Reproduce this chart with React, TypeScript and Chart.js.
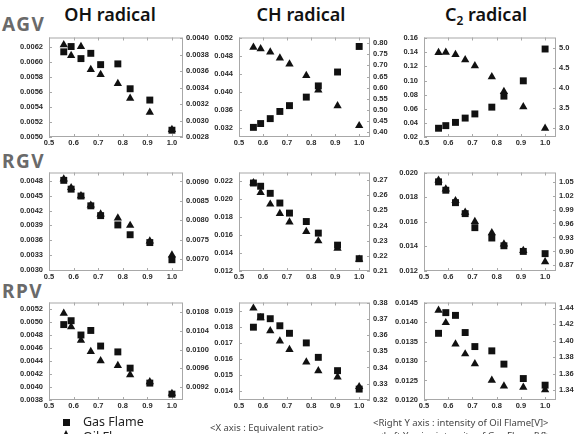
import React, { useEffect, useRef } from 'react';
import { Chart, registerables } from 'chart.js';

Chart.register(...registerables);

// Equivalent ratio of each measurement
const equivalentRatio = [0.56, 0.59, 0.63, 0.67, 0.71, 0.78, 0.83, 0.91, 1.0];
const xTicks = [0.5, 0.6, 0.7, 0.8, 0.9, 1.0];

// AGV – gas flame (left axis) and oil flame (right axis) intensities [V]
const agvOhGas = [0.00613, 0.0062, 0.00604, 0.00611, 0.00596, 0.00597, 0.00564, 0.00549, 0.00509];
const agvOhOil = [0.00392, 0.00379, 0.0039, 0.00362, 0.00356, 0.00345, 0.00327, 0.0031, 0.00289];
const agvChGas = [0.03215, 0.033, 0.0341, 0.0357, 0.037, 0.0389, 0.0414, 0.0445, 0.0502];
const agvChOil = [0.782, 0.775, 0.76, 0.733, 0.706, 0.654, 0.589, 0.518, 0.428];
const agvC2Gas = [0.0324, 0.0361, 0.0407, 0.0468, 0.0527, 0.0623, 0.0779, 0.0996, 0.1447];
const agvC2Oil = [4.89, 4.9, 4.84, 4.71, 4.56, 4.28, 3.91, 3.53, 2.99];

// RGV
const rgvOhGas = [0.00482, 0.00464, 0.0045, 0.0043, 0.0041, 0.00391, 0.00371, 0.00355, 0.0032];
const rgvOhOil = [0.00906, 0.00884, 0.00863, 0.00839, 0.00816, 0.00806, 0.00787, 0.00747, 0.00711];
const rgvChGas = [0.0218, 0.02144, 0.02065, 0.01957, 0.01845, 0.01751, 0.01622, 0.01488, 0.01337];
const rgvChOil = [0.2681, 0.2617, 0.254, 0.2479, 0.2423, 0.236, 0.2298, 0.2249, 0.2177];
const rgvC2Gas = [0.01924, 0.01856, 0.01755, 0.01666, 0.01552, 0.01468, 0.01405, 0.01359, 0.01341];
const rgvC2Oil = [1.053, 1.034, 1.009, 0.984, 0.964, 0.94, 0.916, 0.902, 0.8775];

// RPV
const rpvOhGas = [0.00496, 0.00502, 0.0048, 0.00487, 0.00463, 0.00454, 0.00429, 0.00406, 0.00389];
const rpvOhOil = [0.01078, 0.01049, 0.0102, 0.00996, 0.00976, 0.00966, 0.00946, 0.00931, 0.00906];
const rpvChGas = [0.01796, 0.01861, 0.01849, 0.01805, 0.01758, 0.01698, 0.01608, 0.01525, 0.0141];
const rpvChOil = [0.3765, 0.3706, 0.3626, 0.3563, 0.351, 0.3433, 0.338, 0.3341, 0.3282];
const rpvC2Gas = [0.01371, 0.01424, 0.01417, 0.01373, 0.01337, 0.01326, 0.01292, 0.01255, 0.01238];
const rpvC2Oil = [1.437, 1.422, 1.396, 1.384, 1.372, 1.352, 1.345, 1.3435, 1.3403];

// Tick values of each axis
const agvOhLeftTicks = [0.005, 0.0052, 0.0054, 0.0056, 0.0058, 0.006, 0.0062];
const agvOhRightTicks = [0.0028, 0.003, 0.0032, 0.0034, 0.0036, 0.0038, 0.004];
const agvChLeftTicks = [0.032, 0.036, 0.04, 0.044, 0.048, 0.052];
const agvChRightTicks = [0.4, 0.45, 0.5, 0.55, 0.6, 0.65, 0.7, 0.75, 0.8];
const agvC2LeftTicks = [0.02, 0.04, 0.06, 0.08, 0.1, 0.12, 0.14, 0.16];
const agvC2RightTicks = [3.0, 3.5, 4.0, 4.5, 5.0];
const rgvOhLeftTicks = [0.003, 0.0033, 0.0036, 0.0039, 0.0042, 0.0045, 0.0048];
const rgvOhRightTicks = [0.007, 0.0075, 0.008, 0.0085, 0.009];
const rgvChLeftTicks = [0.012, 0.014, 0.016, 0.018, 0.02, 0.022];
const rgvChRightTicks = [0.21, 0.22, 0.23, 0.24, 0.25, 0.26, 0.27];
const rgvC2LeftTicks = [0.012, 0.014, 0.016, 0.018, 0.02];
const rgvC2RightTicks = [0.87, 0.9, 0.93, 0.96, 0.99, 1.02, 1.05];
const rpvOhLeftTicks = [0.0038, 0.004, 0.0042, 0.0044, 0.0046, 0.0048, 0.005, 0.0052];
const rpvOhRightTicks = [0.0092, 0.0096, 0.01, 0.0104, 0.0108];
const rpvChLeftTicks = [0.014, 0.015, 0.016, 0.017, 0.018, 0.019];
const rpvChRightTicks = [0.32, 0.33, 0.34, 0.35, 0.36, 0.37, 0.38];
const rpvC2LeftTicks = [0.012, 0.0125, 0.013, 0.0135, 0.014, 0.0145];
const rpvC2RightTicks = [1.34, 1.36, 1.38, 1.4, 1.42, 1.44];

type AxisSpec = { min: number; max: number; ticks: number[]; digits: number };
type PanelSpec = {
  key: string;
  col: number;
  row: number;
  gas: number[];
  oil: number[];
  left: AxisSpec;
  right: AxisSpec;
};

const panels: PanelSpec[] = [
  { key: 'agv-oh', col: 0, row: 0, gas: agvOhGas, oil: agvOhOil,
    left: { min: 0.005, max: 0.00632, ticks: agvOhLeftTicks, digits: 4 },
    right: { min: 0.0028, max: 0.00401, ticks: agvOhRightTicks, digits: 4 } },
  { key: 'agv-ch', col: 1, row: 0, gas: agvChGas, oil: agvChOil,
    left: { min: 0.03, max: 0.0522, ticks: agvChLeftTicks, digits: 3 },
    right: { min: 0.377, max: 0.826, ticks: agvChRightTicks, digits: 2 } },
  { key: 'agv-c2', col: 2, row: 0, gas: agvC2Gas, oil: agvC2Oil,
    left: { min: 0.02, max: 0.161, ticks: agvC2LeftTicks, digits: 2 },
    right: { min: 2.77, max: 5.27, ticks: agvC2RightTicks, digits: 1 } },
  { key: 'rgv-oh', col: 0, row: 1, gas: rgvOhGas, oil: rgvOhOil,
    left: { min: 0.00297, max: 0.00498, ticks: rgvOhLeftTicks, digits: 4 },
    right: { min: 0.0067, max: 0.00923, ticks: rgvOhRightTicks, digits: 4 } },
  { key: 'rgv-ch', col: 1, row: 1, gas: rgvChGas, oil: rgvChOil,
    left: { min: 0.012, max: 0.02297, ticks: rgvChLeftTicks, digits: 3 },
    right: { min: 0.21, max: 0.2749, ticks: rgvChRightTicks, digits: 2 } },
  { key: 'rgv-c2', col: 2, row: 1, gas: rgvC2Gas, oil: rgvC2Oil,
    left: { min: 0.012, max: 0.02, ticks: rgvC2LeftTicks, digits: 3 },
    right: { min: 0.858, max: 1.0695, ticks: rgvC2RightTicks, digits: 2 } },
  { key: 'rpv-oh', col: 0, row: 2, gas: rpvOhGas, oil: rpvOhOil,
    left: { min: 0.0038, max: 0.0053, ticks: rpvOhLeftTicks, digits: 4 },
    right: { min: 0.00892, max: 0.01101, ticks: rpvOhRightTicks, digits: 4 } },
  { key: 'rpv-ch', col: 1, row: 2, gas: rpvChGas, oil: rpvChOil,
    left: { min: 0.01342, max: 0.0195, ticks: rpvChLeftTicks, digits: 3 },
    right: { min: 0.32, max: 0.38, ticks: rpvChRightTicks, digits: 2 } },
  { key: 'rpv-c2', col: 2, row: 2, gas: rpvC2Gas, oil: rpvC2Oil,
    left: { min: 0.012, max: 0.0145, ticks: rpvC2LeftTicks, digits: 4 },
    right: { min: 1.328, max: 1.4466, ticks: rpvC2RightTicks, digits: 2 } },
];

// Plot-area placement of the grid
const colLeft = [49, 239, 424];
const colWidth = [134, 131, 132];
const rowTop = [33, 168, 298];
const rowHeight = [104, 103, 102];
const LEFT_W = 45;
const RIGHT_W = 36;
const TOP_PAD = 6;
const BOTTOM_H = 14;

const FRAME = '#a8a8a8';
const MARK = '#111111';
const TICK_FONT = { family: 'Liberation Sans, Arial, sans-serif', size: 7.5, weight: 'bold' as const };

// Light frame around the plot area with short inward tick marks
const framePlugin = {
  id: 'frameTicks',
  beforeDatasetsDraw(chart: any) {
    const { ctx, chartArea: a, scales } = chart;
    ctx.save();
    ctx.strokeStyle = FRAME;
    ctx.lineWidth = 1;
    ctx.strokeRect(a.left + 0.5, a.top + 0.5, a.right - a.left - 1, a.bottom - a.top - 1);
    const len = 3;
    ctx.beginPath();
    for (const t of scales.x.ticks) {
      const px = Math.round(scales.x.getPixelForValue(t.value)) + 0.5;
      ctx.moveTo(px, a.bottom);
      ctx.lineTo(px, a.bottom - len);
      ctx.moveTo(px, a.top);
      ctx.lineTo(px, a.top + len);
    }
    for (const t of scales.yL.ticks) {
      const py = Math.round(scales.yL.getPixelForValue(t.value)) + 0.5;
      ctx.moveTo(a.left, py);
      ctx.lineTo(a.left + len, py);
    }
    for (const t of scales.yR.ticks) {
      const py = Math.round(scales.yR.getPixelForValue(t.value)) + 0.5;
      ctx.moveTo(a.right, py);
      ctx.lineTo(a.right - len, py);
    }
    ctx.stroke();
    ctx.restore();
  },
};

function yAxis(spec: AxisSpec, position: 'left' | 'right', width: number, padding: number) {
  return {
    type: 'linear' as const,
    position,
    min: spec.min,
    max: spec.max,
    grid: { display: false, drawTicks: false },
    border: { display: false },
    afterBuildTicks: (scale: any) => {
      scale.ticks = spec.ticks.map((v) => ({ value: v }));
    },
    afterFit: (scale: any) => {
      scale.width = width;
    },
    ticks: {
      padding,
      color: '#2a2a2a',
      font: TICK_FONT,
      autoSkip: false,
      callback: (v: any) => Number(v).toFixed(spec.digits),
    },
  };
}

function ScatterPanel({ spec }: { spec: PanelSpec }) {
  const ref = useRef<HTMLCanvasElement>(null);
  const w = LEFT_W + colWidth[spec.col] + RIGHT_W;
  const h = TOP_PAD + rowHeight[spec.row] + BOTTOM_H;
  const left = colLeft[spec.col] - LEFT_W;
  const top = rowTop[spec.row] - TOP_PAD;

  useEffect(() => {
    const chart = new Chart(ref.current as HTMLCanvasElement, {
      type: 'scatter',
      data: {
        datasets: [
          {
            label: 'Gas Flame',
            data: equivalentRatio.map((x, i) => ({ x, y: spec.gas[i] })),
            yAxisID: 'yL',
            pointStyle: 'rect',
            pointRadius: 4.9,
            pointHoverRadius: 4.9,
            backgroundColor: MARK,
            borderWidth: 0,
            clip: false,
          },
          {
            label: 'Oil Flame',
            data: equivalentRatio.map((x, i) => ({ x, y: spec.oil[i] })),
            yAxisID: 'yR',
            pointStyle: 'triangle',
            pointRadius: 4.8,
            pointHoverRadius: 4.8,
            backgroundColor: MARK,
            borderWidth: 0,
            clip: false,
          },
        ],
      },
      options: {
        animation: false,
        responsive: false,
        devicePixelRatio: 1,
        layout: { padding: { top: TOP_PAD, left: 0, right: 0, bottom: 0 } },
        plugins: { legend: { display: false }, tooltip: { enabled: false } },
        events: [],
        scales: {
          x: {
            type: 'linear',
            min: 0.5,
            max: 1.045,
            grid: { display: false, drawTicks: false },
            border: { display: false },
            afterBuildTicks: (scale: any) => {
              scale.ticks = xTicks.map((v) => ({ value: v }));
            },
            afterFit: (scale: any) => {
              scale.height = BOTTOM_H;
            },
            ticks: {
              padding: 1,
              color: '#2a2a2a',
              font: TICK_FONT,
              maxRotation: 0,
              autoSkip: false,
              callback: (v: any) => Number(v).toFixed(1),
            },
          },
          yL: yAxis(spec.left, 'left', LEFT_W, 6),
          yR: yAxis(spec.right, 'right', RIGHT_W, 3),
        } as any,
      },
      plugins: [framePlugin],
    });
    return () => chart.destroy();
  }, []);

  return (
    <canvas
      ref={ref}
      width={w}
      height={h}
      style={{ position: 'absolute', left, top, width: w, height: h }}
    />
  );
}

const titleStyle: React.CSSProperties = {
  position: 'absolute',
  top: 2,
  font: '600 18px "Noto Sans", sans-serif',
  color: '#111',
  transform: 'translateX(-50%)',
  whiteSpace: 'nowrap',
};

const rowLabelStyle: React.CSSProperties = {
  position: 'absolute',
  left: 2,
  font: 'bold 19px "Noto Sans", sans-serif',
  letterSpacing: '1.5px',
  color: '#6a6a6a',
  whiteSpace: 'nowrap',
};

const noteStyle: React.CSSProperties = {
  position: 'absolute',
  font: '9.5px "Noto Sans", sans-serif',
  color: '#444',
  whiteSpace: 'nowrap',
};

export default function App() {
  return (
    <div
      style={{
        position: 'absolute',
        left: 0,
        top: 0,
        width: 583,
        height: 434,
        overflow: 'hidden',
        background: '#fff',
      }}
    >
      <div style={{ ...titleStyle, left: 110 }}>OH radical</div>
      <div style={{ ...titleStyle, left: 301 }}>CH radical</div>
      <div style={{ ...titleStyle, left: 486 }}>
        C<span style={{ fontSize: 12, position: 'relative', top: 4 }}>2</span> radical
      </div>

      <div style={{ ...rowLabelStyle, top: 11 }}>AGV</div>
      <div style={{ ...rowLabelStyle, top: 148 }}>RGV</div>
      <div style={{ ...rowLabelStyle, top: 278 }}>RPV</div>

      {panels.map((p) => (
        <ScatterPanel key={p.key} spec={p} />
      ))}

      {/* legend */}
      <div style={{ position: 'absolute', left: 63, top: 419, width: 7, height: 7, background: MARK }} />
      <div style={{ ...noteStyle, left: 83, top: 413, font: '12.5px "Noto Sans", sans-serif', color: '#222' }}>
        Gas Flame
      </div>
      <div
        style={{
          position: 'absolute',
          left: 62,
          top: 430,
          width: 0,
          height: 0,
          borderLeft: '4.5px solid transparent',
          borderRight: '4.5px solid transparent',
          borderBottom: '8px solid ' + MARK,
        }}
      />
      <div style={{ ...noteStyle, left: 83, top: 428, font: '12.5px "Noto Sans", sans-serif', color: '#222' }}>
        Oil Flame
      </div>

      <div style={{ ...noteStyle, left: 210, top: 421 }}>&lt;X axis : Equivalent ratio&gt;</div>
      <div style={{ ...noteStyle, left: 373, top: 416 }}>&lt;Right Y axis : intensity of Oil Flame[V]&gt;</div>
      <div style={{ ...noteStyle, left: 378, top: 429 }}>&lt;Left Y axis : intensity of Gas Flame[V]&gt;</div>
    </div>
  );
}
